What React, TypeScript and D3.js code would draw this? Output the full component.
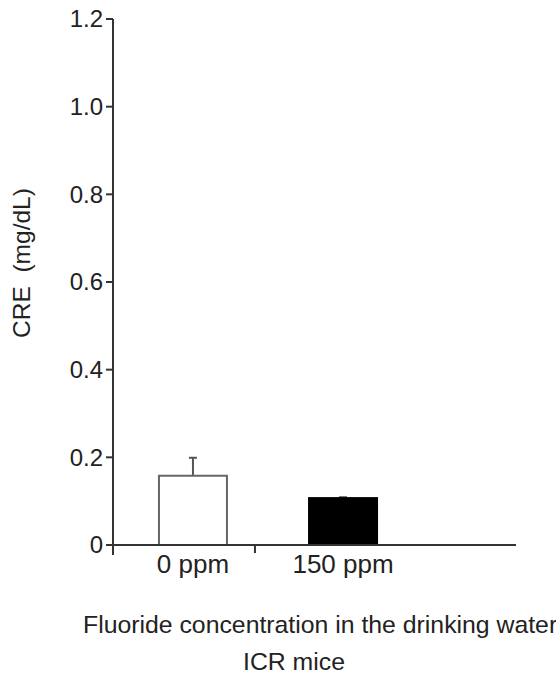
import React, { useEffect, useRef } from 'react';
import * as d3 from 'd3';

// data
const groups = ['0 ppm', '150 ppm'];
const means = [0.158, 0.107];
const errors = [0.041, 0.002];
const fills = ['#ffffff', '#000000'];
const yTicks = [0, 0.2, 0.4, 0.6, 0.8, 1.0, 1.2];

const W = 556;
const H = 676;

const App = () => {
    const svgRef = useRef<SVGSVGElement>(null);

    useEffect(() => {
        const svg = d3.select(svgRef.current);
        svg.selectAll('*').remove();

        const font = '"Liberation Sans", Arial, sans-serif';
        const axisColor = '#333';

        const y = d3.scaleLinear().domain([0, 1.2]).range([545, 19]);
        const x = d3.scaleBand<string>()
            .domain(groups)
            .range([118, 418])
            .paddingInner(0.547)
            .paddingOuter(0.273);

        const axisX0 = 113;
        const axisX1 = 516;

        // y axis line + ticks
        svg.append('line')
            .attr('x1', axisX0).attr('x2', axisX0)
            .attr('y1', y(1.2)).attr('y2', y(0) + 10)
            .attr('stroke', axisColor).attr('stroke-width', 2);

        const yt = svg.append('g').selectAll('g')
            .data(yTicks)
            .join('g')
            .attr('transform', d => `translate(0,${y(d)})`);

        yt.append('line')
            .attr('x1', axisX0 - 7).attr('x2', axisX0)
            .attr('stroke', axisColor).attr('stroke-width', 2);

        yt.append('text')
            .attr('x', axisX0 - 10)
            .attr('dy', '0.35em')
            .attr('text-anchor', 'end')
            .style('font-family', font)
            .style('font-size', '24px')
            .attr('fill', '#222')
            .text(d => d === 0 ? '0' : d.toFixed(1));

        // bars
        const bars = svg.append('g').selectAll('g')
            .data(groups)
            .join('g');

        bars.append('line')
            .attr('x1', d => x(d)! + x.bandwidth() / 2)
            .attr('x2', d => x(d)! + x.bandwidth() / 2)
            .attr('y1', (d, i) => y(means[i]))
            .attr('y2', (d, i) => y(means[i] + errors[i]))
            .attr('stroke', '#555').attr('stroke-width', 2);

        bars.append('line')
            .attr('x1', d => x(d)! + x.bandwidth() / 2 - 4)
            .attr('x2', d => x(d)! + x.bandwidth() / 2 + 4)
            .attr('y1', (d, i) => y(means[i] + errors[i]))
            .attr('y2', (d, i) => y(means[i] + errors[i]))
            .attr('stroke', '#555').attr('stroke-width', 2);

        bars.append('rect')
            .attr('x', d => x(d)!)
            .attr('width', x.bandwidth())
            .attr('y', (d, i) => y(means[i]))
            .attr('height', (d, i) => y(0) - y(means[i]))
            .attr('fill', (d, i) => fills[i])
            .attr('stroke', (d, i) => i === 0 ? '#666' : '#000')
            .attr('stroke-width', 2);

        // x axis
        svg.append('line')
            .attr('x1', axisX0).attr('x2', axisX1)
            .attr('y1', y(0)).attr('y2', y(0))
            .attr('stroke', axisColor).attr('stroke-width', 2);

        // small separator tick between groups
        const sep = x('0 ppm')! + x.bandwidth() + 28;
        svg.append('line')
            .attr('x1', sep).attr('x2', sep)
            .attr('y1', y(0)).attr('y2', y(0) + 8)
            .attr('stroke', axisColor).attr('stroke-width', 2);

        svg.append('g').selectAll('text')
            .data(groups)
            .join('text')
            .attr('x', d => x(d)! + x.bandwidth() / 2)
            .attr('y', 573)
            .attr('text-anchor', 'middle')
            .style('font-family', font)
            .style('font-size', '26px')
            .attr('fill', '#222')
            .text(d => d);

        // axis titles
        svg.append('text')
            .attr('x', 83).attr('y', 633)
            .style('font-family', font)
            .style('font-size', '24.8px')
            .attr('fill', '#222')
            .text('Fluoride concentration in the drinking water');

        svg.append('text')
            .attr('x', 294).attr('y', 670)
            .attr('text-anchor', 'middle')
            .style('font-family', font)
            .style('font-size', '24.8px')
            .attr('fill', '#222')
            .text('ICR mice');

        svg.append('text')
            .attr('transform', 'translate(30,263) rotate(-90)')
            .attr('text-anchor', 'middle')
            .style('font-family', font)
            .style('font-size', '24.5px')
            .style('white-space', 'pre')
            .attr('fill', '#222')
            .text('CRE  (mg/dL)');
    }, []);

    return (
        <svg ref={svgRef} width={W} height={H}
            style={{ position: 'absolute', left: 0, top: 0, background: '#fff' }} />
    );
};

export default App;
